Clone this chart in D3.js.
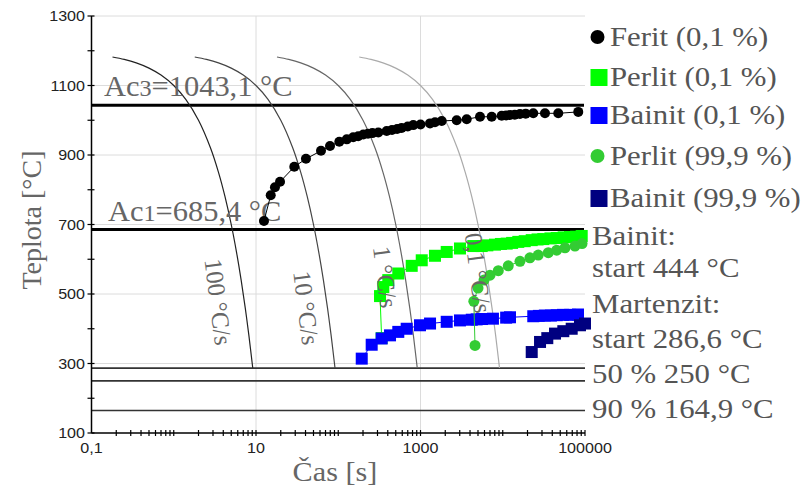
<!DOCTYPE html>
<html><head><meta charset="utf-8">
<script src="https://cdn.jsdelivr.net/npm/d3@7"></script>
<style>body{margin:0;background:#fff}svg{display:block}</style>
</head><body>
<svg id="chart" width="808" height="489"></svg>
<script>
// ---------- DATA ----------
const xTickValues = [0.1, 10, 1000, 100000];
const xTickLabels = ["0,1", "10", "1000", "100000"];
const yTickValues = [100, 300, 500, 700, 900, 1100, 1300];
const yMinorTicks = [200, 400, 600, 800, 1000, 1200];

const ferritTime = [12.5,15.1,17.0,19.6,29.2,40.5,61.7,79.4,103,127,152,175,202,230,260,307,388,450,520,590,700,817,1000,1306,1500,1811,2754,3646,5289,7340,9706,11000,12250,14000,16200,19000,23500,32600,47300,82800];
const ferritTemp = [710,784,807,823,866,889,912,926,938,945,951,954,959,961,963,965,969,972,975,978,982,986,988,991,994,998,1000,1003,1010,1010,1013,1014,1015,1016,1018,1019,1020,1020,1020,1024];

const perlit01Time = [337,322,353,406,537,782,1035,1500,2083,3020,4385,5546,6500,8050,9500,11170,13000,15450,18500,22500,26500,31100,38000,45300,55000,65700,78000,91200];
const perlit01Temp = [373,494,520,540,559,581,597,610,621,631,638,638,640,642,644,645,647,650,652,655,657,658,660,661,663,664,665,667];

const bainit01Time = [193,255,337,426,537,679,986,1306,2083,3020,4200,4820,5600,7600,11000,12250,23500,27500,32500,38500,45300,54000,66000,82200];
const bainit01Temp = [314,354,372,381,391,400,410,415,420,424,426,427,428,429,432,433,436,437,438,438,439,440,440,441];

const perlit999Time = [4600,4450,5000,5920,7000,8830,11670,16200,21400,27000,35800,45300,57100,75500,92000];
const perlit999Temp = [352,479,517,540,554,567,581,594,604,612,619,626,633,638,645];

const bainit999Time = [22500,28400,34800,43200,54500,68900,86900,100000];
const bainit999Temp = [333,362,373,386,393,400,410,415];

// cooling curves (time s, temperature °C)
const coolTemp = [1182,1175,1165,1150,1130,1100,1060,1000,920,850,780,700,620,540,460,380,287];
const cool100Time = [0.18,0.25,0.35,0.5,0.7,1,1.4,2,2.8,3.5,4.2,5,5.8,6.6,7.4,8.2,9.13];
const cool10Time = [1.8,2.5,3.5,5,7,10,14,20,28,35,42,50,58,66,74,82,91.3];
const cool1Time = [18,25,35,50,70,100,140,200,280,350,420,500,580,660,740,820,913];
const cool01Time = [180,250,350,500,700,1000,1400,2000,2800,3500,4200,5000,5800,6600,7400,8200,9130];
const coolLabels = ["100 °C/s", "10 °C/s", "1 °C/s", "0,1 °C/s"];
const coolLabelTime = [3.45, 40.5, 370, 4990];
const coolLabelTemp = [477, 460, 549, 560];

const ac3 = 1043.1, ac1 = 685.4;
const thinLines = [286.6, 250, 164.9];

const legendLabels = ["Ferit (0,1 %)", "Perlit (0,1 %)", "Bainit (0,1 %)", "Perlit (99,9 %)", "Bainit (99,9 %)"];
const infoLabels = ["Bainit:", "start 444 °C", "Martenzit:", "start 286,6 °C", "50 % 250 °C", "90 % 164,9 °C"];

// ---------- DRAW ----------
const svg = d3.select("#chart");
const SERIF = "'Liberation Serif','Times New Roman',serif";
const SANS = "'Liberation Sans',Arial,sans-serif";
const x = d3.scaleLog().domain([0.1, 100000]).range([91.5, 585]);
const y = d3.scaleLinear().domain([100, 1300]).range([433, 16]);
const X0 = 91.5, X1 = 585;

function stext(g, str, px, py, opts) {
  const t = g.append("text")
    .attr("transform", `translate(${px},${py}) scale(${opts.sx||1},1)`)
    .attr("font-family", opts.family || SERIF)
    .attr("font-size", opts.size)
    .attr("fill", opts.fill || "#555")
    .attr("text-anchor", opts.anchor || "start")
    .text(str);
  if (opts.dy) t.attr("dy", opts.dy);
  return t;
}

// gridlines
const grid = svg.append("g");
grid.selectAll("line.h").data(yTickValues.filter(v => v > 100)).join("line")
  .attr("x1", X0).attr("x2", X1).attr("y1", d => y(d)).attr("y2", d => y(d))
  .attr("stroke", "#dcdcdc").attr("stroke-width", 1);
grid.selectAll("line.v").data([10, 1000]).join("line")
  .attr("x1", d => x(d)).attr("x2", d => x(d)).attr("y1", y(1300)).attr("y2", y(100))
  .attr("stroke", "#dcdcdc").attr("stroke-width", 1);

// horizontal reference lines
svg.selectAll("line.ac").data([ac3, ac1]).join("line")
  .attr("x1", X0).attr("x2", X1 - 1).attr("y1", d => y(d)).attr("y2", d => y(d))
  .attr("stroke", "#000").attr("stroke-width", 3);
svg.selectAll("line.thin").data(thinLines).join("line")
  .attr("x1", X0).attr("x2", X1).attr("y1", d => y(d)).attr("y2", d => y(d))
  .attr("stroke", "#333").attr("stroke-width", 1.6);

// cooling curves
const coolColors = ["#222", "#444", "#666", "#aaa"];
const coolTimes = [cool100Time, cool10Time, cool1Time, cool01Time];
const lineGen = d3.line().x(d => x(d[0])).y(d => y(d[1])).curve(d3.curveCatmullRom);
coolTimes.forEach((ts, i) => {
  svg.append("path").datum(ts.map((t, k) => [t, coolTemp[k]]))
    .attr("d", lineGen).attr("fill", "none")
    .attr("stroke", coolColors[i]).attr("stroke-width", 1.2);
});

// Ac labels
const acG = svg.append("g");
const t3 = acG.append("text").attr("transform", `translate(104,96) scale(1.05,1)`)
  .attr("font-family", SERIF).attr("font-size", 29).attr("fill", "#666");
t3.append("tspan").text("Ac");
t3.append("tspan").attr("font-size", 23).text("3");
t3.append("tspan").text("=1043,1 °C");
const t1 = acG.append("text").attr("transform", `translate(108,221) scale(1.05,1)`)
  .attr("font-family", SERIF).attr("font-size", 29).attr("fill", "#666");
t1.append("tspan").text("Ac");
t1.append("tspan").attr("font-size", 23).text("1");
t1.append("tspan").text("=685,4 °C");

// series
const lineS = d3.line().x(d => x(d[0])).y(d => y(d[1]));
function series(times, temps, color, shape, size) {
  const pts = times.map((t, k) => [t, temps[k]]);
  const g = svg.append("g");
  g.append("path").datum(pts).attr("d", lineS).attr("fill", "none")
    .attr("stroke", color).attr("stroke-width", 1);
  if (shape === "circle") {
    g.selectAll("circle").data(pts).join("circle")
      .attr("cx", d => x(d[0])).attr("cy", d => y(d[1])).attr("r", size).attr("fill", color);
  } else {
    g.selectAll("rect").data(pts).join("rect")
      .attr("x", d => x(d[0]) - size / 2).attr("y", d => y(d[1]) - size / 2)
      .attr("width", size).attr("height", size).attr("fill", color);
  }
}
series(ferritTime, ferritTemp, "#000", "circle", 5);
series(perlit01Time, perlit01Temp, "#00ff00", "rect", 12);
series(bainit01Time, bainit01Temp, "#0000ff", "rect", 12);
series(perlit999Time, perlit999Temp, "#33cc33", "circle", 5.5);
series(bainit999Time, bainit999Temp, "#000080", "rect", 12);

// curve labels (drawn above the data)
coolLabels.forEach((lab, i) => {
  svg.append("text")
    .attr("transform", `translate(${x(coolLabelTime[i])},${y(coolLabelTemp[i])}) rotate(83)`)
    .attr("font-family", SERIF).attr("font-size", 25).attr("fill", "#666")
    .attr("text-anchor", "middle").attr("dy", "0.33em").text(lab);
});

// axes
const ax = svg.append("g");
ax.append("line").attr("x1", X0).attr("x2", X0).attr("y1", y(1300)).attr("y2", y(100))
  .attr("stroke", "#000").attr("stroke-width", 1.5);
ax.append("line").attr("x1", X0).attr("x2", X1).attr("y1", y(100)).attr("y2", y(100))
  .attr("stroke", "#000").attr("stroke-width", 1.5);
ax.selectAll("line.yt").data(yTickValues.concat(yMinorTicks)).join("line")
  .attr("x1", X0 - 4).attr("x2", X0 + 3).attr("y1", d => y(d)).attr("y2", d => y(d))
  .attr("stroke", "#000").attr("stroke-width", 1.2);
const xMinor = x.ticks(60).filter(v => v > 0.1 && v <= 100000);
ax.selectAll("line.xt").data(xMinor).join("line")
  .attr("x1", d => x(d)).attr("x2", d => x(d)).attr("y1", y(100) - 3).attr("y2", y(100) + 3)
  .attr("stroke", "#000").attr("stroke-width", 1.2);
yTickValues.forEach(v => stext(ax, String(v), 85, y(v), {family: SANS, size: 14, fill: "#222", anchor: "end", sx: 1.15, dy: "0.36em"}));
xTickValues.forEach((v, i) => stext(ax, xTickLabels[i], x(v), 453, {family: SANS, size: 14, fill: "#222", anchor: "middle", sx: 1.15}));

// axis titles
svg.append("text").attr("transform", "translate(41,220) rotate(-90)")
  .attr("font-family", SERIF).attr("font-size", 28).attr("fill", "#666")
  .attr("text-anchor", "middle").text("Teplota [°C]");
stext(svg, "Čas [s]", 335, 481, {size: 27, fill: "#666", anchor: "middle", sx: 1.12});

// legend
const leg = svg.append("g");
const legRowY = [37, 77.5, 115.5, 156, 198.5];
const legColors = ["#000", "#00ff00", "#0000ff", "#33cc33", "#000080"];
const legShapes = ["circle", "rect", "rect", "circle", "rect"];
legendLabels.forEach((lab, i) => {
  if (legShapes[i] === "circle") {
    leg.append("circle").attr("cx", 597.5).attr("cy", legRowY[i]).attr("r", 7).attr("fill", legColors[i]);
  } else {
    leg.append("rect").attr("x", 590.5).attr("y", legRowY[i] - 8.5).attr("width", 17).attr("height", 17).attr("fill", legColors[i]);
  }
  stext(leg, lab, 610, legRowY[i] + 8.5, {size: 28, fill: "#555", sx: 1.1});
});
const infoY = [245, 277, 313, 348, 383, 418];
infoLabels.forEach((lab, i) => stext(leg, lab, 592, infoY[i], {size: 28, fill: "#555", sx: 1.1}));
</script>
</body></html>
